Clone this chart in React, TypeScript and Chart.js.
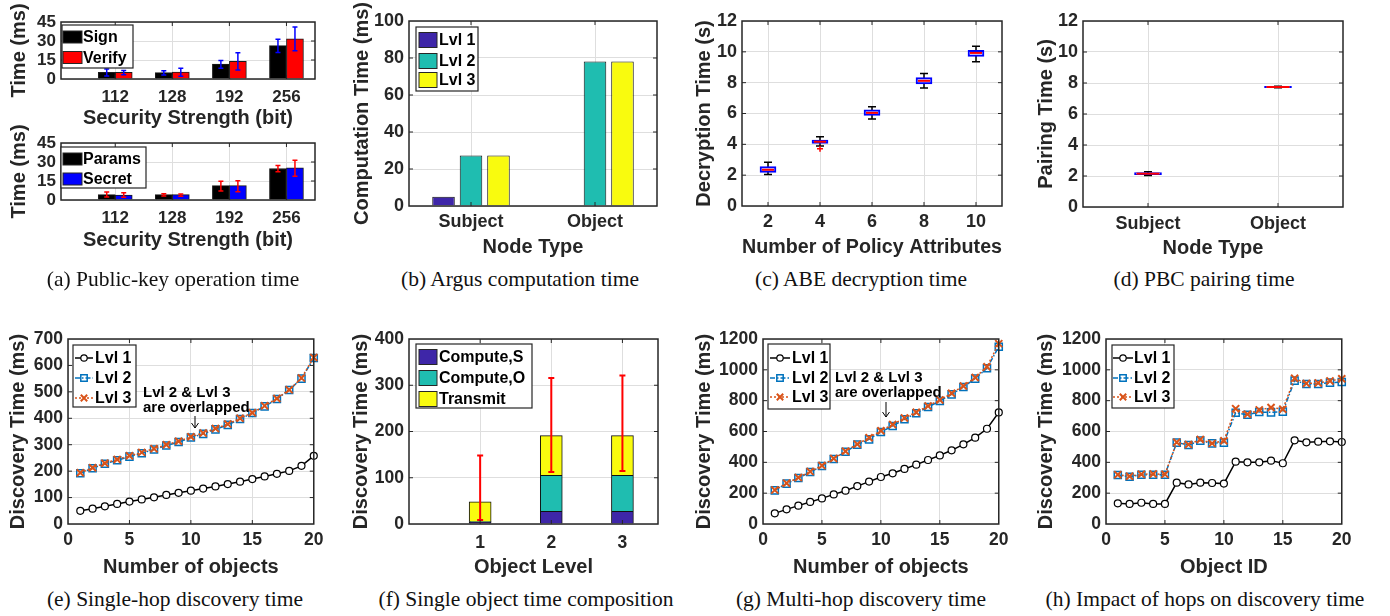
import React, { useEffect, useRef } from "react";
import { Chart, registerables } from "chart.js";

Chart.register(...registerables);

const SANS = '"Liberation Sans", Arial, Helvetica, sans-serif';
const SERIF = '"Liberation Serif", "Times New Roman", serif';
const INK = "#262626";
const GRID = "#dedede";
const PAR1 = "#3E26A8";
const PAR2 = "#1FBDB0";
const PAR3 = "#F9FB0E";
const BLUE_L = "#0072BD";
const ORANGE_L = "#D95319";

// ---------- (a) public-key operation time ----------
const secLabels = ["112", "128", "192", "256"];
const secPos = [1, 2, 3, 4];
const signMs = [5.2, 5.0, 11.8, 26.4];
const signLo = [2.4, 3.1, 8.4, 20.9];
const signHi = [7.8, 6.5, 14.7, 31.4];
const verifyMs = [5.2, 5.5, 13.9, 31.7];
const verifyLo = [3.4, 2.1, 7.1, 22.3];
const verifyHi = [6.8, 8.4, 20.7, 41.1];
const paramsMs = [4.2, 4.2, 11.3, 24.9];
const paramsLo = [2.4, 3.1, 7.1, 22.3];
const paramsHi = [6.3, 5.0, 14.9, 27.2];
const secretMs = [3.9, 4.2, 11.3, 25.4];
const secretLo = [2.1, 2.9, 6.5, 18.8];
const secretHi = [5.8, 4.7, 15.2, 31.4];

// ---------- (b) Argus computation time ----------
const nodeTypes = ["Subject", "Object"];
const argusLvl1 = [5.0, 0.3];
const argusLvl2 = [27.3, 78.1];
const argusLvl3 = [27.3, 78.1];

// ---------- (c) ABE decryption time ----------
const policyAttrs = ["2", "4", "6", "8", "10"];
const abeQ1 = [2.18, 4.06, 5.87, 7.92, 9.71];
const abeQ3 = [2.55, 4.27, 6.24, 8.33, 10.1];
const abeMed = [2.35, 4.17, 6.04, 8.12, 9.93];
const abeWLo = [2.05, 3.89, 5.65, 7.66, 9.35];
const abeWHi = [2.83, 4.49, 6.43, 8.59, 10.36];
const abeOutlier = [null, 3.71, null, null, null];

// ---------- (d) PBC pairing time ----------
const pairQ1 = [2.08, 7.7];
const pairQ3 = [2.22, 7.78];
const pairMed = [2.15, 7.74];
const pairWLo = [2.04, 7.69];
const pairWHi = [2.28, 7.79];

// ---------- (e) single-hop discovery ----------
const objIds = [1, 2, 3, 4, 5, 6, 7, 8, 9, 10, 11, 12, 13, 14, 15, 16, 17, 18, 19, 20];
const singleLvl1 = [50, 58, 67, 76, 85, 93, 101, 110, 118, 126, 134, 142, 151, 160, 170, 180, 190, 201, 220, 258];
const singleLvl2 = [192, 211, 228, 241, 255, 268, 282, 297, 310, 327, 341, 358, 375, 397, 420, 445, 473, 507, 550, 628];
const singleLvl3 = [194, 213, 230, 244, 258, 271, 285, 300, 313, 330, 344, 361, 378, 400, 421, 447, 475, 508, 552, 630];

// ---------- (f) single object time composition ----------
const objLevels = [1, 2, 3];
const computeS = [4.5, 27.4, 27.4];
const computeO = [0.5, 77.8, 77.8];
const transmitMs = [43, 86, 86];
const totalLo = [8.6, 112.4, 114.6];
const totalHi = [148, 315.7, 321];

// ---------- (g) multi-hop discovery ----------
const multiLvl1 = [69, 95, 119, 143, 166, 192, 216, 246, 275, 305, 329, 357, 385, 415, 445, 478, 517, 560, 618, 724];
const multiLvl2 = [218, 262, 298, 337, 376, 422, 469, 515, 549, 597, 636, 679, 718, 759, 798, 841, 889, 943, 1010, 1150];
const multiLvl3 = [220, 265, 301, 340, 379, 425, 472, 518, 560, 605, 645, 688, 725, 765, 805, 848, 895, 950, 1020, 1170];

// ---------- (h) impact of hops ----------
const hopsLvl1 = [134, 130, 138, 130, 130, 268, 257, 268, 266, 262, 404, 400, 400, 411, 394, 543, 530, 534, 536, 532];
const hopsLvl2 = [318, 307, 320, 320, 320, 528, 512, 541, 523, 528, 722, 709, 726, 724, 729, 930, 908, 908, 917, 921];
const hopsLvl3 = [320, 310, 322, 325, 322, 530, 515, 548, 523, 540, 748, 712, 740, 755, 745, 945, 912, 915, 928, 942];

const captions = [
  { text: "(a) Public-key operation time", x: 173, y: 280 },
  { text: "(b) Argus computation time", x: 520, y: 280 },
  { text: "(c) ABE decryption time", x: 861, y: 280 },
  { text: "(d) PBC pairing time", x: 1204, y: 280 },
  { text: "(e) Single-hop discovery time", x: 175, y: 600 },
  { text: "(f) Single object time composition", x: 526, y: 600 },
  { text: "(g) Multi-hop discovery time", x: 861, y: 600 },
  { text: "(h) Impact of hops on discovery time", x: 1205, y: 600 },
];

// ---------- layout helpers ----------
type Geo = { plotL: number; plotT: number; plotR: number; plotB: number; titleX: number; xTitleY: number; tickY: number; fontTick: number; padTop: number };
type Layout = Geo & { left: number; top: number; width: number; height: number; yW: number; xH: number; tickPad: number };

const PAD_RIGHT = 14;

function layoutOf(g: Geo): Layout {
  const left = Math.round(g.titleX - 16);
  const top = g.plotT - g.padTop;
  const yW = g.plotL - left;
  const xH = g.xTitleY + 16 - g.plotB;
  const width = g.plotR + PAD_RIGHT - left;
  const height = g.plotB + xH - top;
  const tickPad = g.tickY - g.plotB - (g.fontTick * 1.2) / 2;
  return { ...g, left, top, width, height, yW, xH, tickPad };
}

const geoA1 = layoutOf({ plotL: 61, plotT: 22, plotR: 315, plotB: 79, titleX: 19, xTitleY: 118, tickY: 97, fontTick: 17, padTop: 22 });
const geoA2 = layoutOf({ plotL: 61, plotT: 143, plotR: 315, plotB: 200, titleX: 19, xTitleY: 240, tickY: 218, fontTick: 17, padTop: 25 });
const geoB = layoutOf({ plotL: 409, plotT: 21, plotR: 657, plotB: 206, titleX: 362, xTitleY: 247, tickY: 222, fontTick: 18, padTop: 21 });
const geoC = layoutOf({ plotL: 742, plotT: 21, plotR: 1002, plotB: 206, titleX: 704, xTitleY: 247, tickY: 222, fontTick: 18, padTop: 21 });
const geoD = layoutOf({ plotL: 1083, plotT: 21, plotR: 1343, plotB: 207, titleX: 1046, xTitleY: 248, tickY: 224, fontTick: 18, padTop: 21 });
const geoE = layoutOf({ plotL: 68, plotT: 339, plotR: 315, plotB: 524, titleX: 18, xTitleY: 567, tickY: 540, fontTick: 17.5, padTop: 25 });
const geoF = layoutOf({ plotL: 409, plotT: 339, plotR: 658, plotB: 524, titleX: 361, xTitleY: 567, tickY: 543, fontTick: 17.5, padTop: 25 });
const geoG = layoutOf({ plotL: 763, plotT: 339, plotR: 1000, plotB: 524, titleX: 704, xTitleY: 567, tickY: 540, fontTick: 17.5, padTop: 25 });
const geoH = layoutOf({ plotL: 1106, plotT: 339, plotR: 1343, plotB: 524, titleX: 1046, xTitleY: 567, tickY: 540, fontTick: 17.5, padTop: 25 });

const tickFont = (size: number) => ({ family: SANS, size, weight: "bold" as const });
const TITLE_FONT = { family: SANS, size: 20, weight: "bold" as const };

function baseOptions(L: Layout): any {
  return {
    responsive: false,
    animation: false,
    devicePixelRatio: 1,
    events: [],
    layout: { padding: { top: L.padTop, right: PAD_RIGHT, left: 0, bottom: 0 } },
    plugins: { legend: { display: false }, tooltip: { enabled: false } },
  };
}

function scaleY(L: Layout, min: number, max: number, step: number, title: string): any {
  return {
    type: "linear",
    min,
    max,
    ticks: { stepSize: step, color: INK, font: tickFont(L.fontTick), padding: 5, autoSkip: false, callback: (v: any) => String(v) },
    grid: { color: GRID, lineWidth: 1, drawTicks: false },
    border: { display: false },
    title: { display: true, text: title, color: INK, font: TITLE_FONT, padding: { top: 4, bottom: 4 } },
    afterFit: (s: any) => {
      s.width = L.yW;
    },
  };
}

function scaleX(L: Layout, title: string, extra: any = {}, tickExtra: any = {}): any {
  return {
    ...extra,
    ticks: { color: INK, font: tickFont(L.fontTick), padding: L.tickPad, maxRotation: 0, minRotation: 0, autoSkip: false, ...tickExtra },
    grid: { color: GRID, lineWidth: 1, drawTicks: false, offset: false },
    border: { display: false },
    title: { display: true, text: title, color: INK, font: TITLE_FONT, padding: { top: 4, bottom: 4 } },
    afterFit: (s: any) => {
      s.height = L.xH;
    },
  };
}

// ---------- custom drawing plugin (MATLAB look) ----------
type LegendSpec = { x: number; y: number; w: number; h: number; rows: number[]; kind: "bar" | "line"; swX: number; swW: number; swH?: number; textX: number };
type Ext = {
  legend?: LegendSpec;
  errorBars?: { dataset: number; lo: number[]; hi: number[]; color: string; cap: number; width: number }[];
  box?: { dataset: number; lo: number[]; hi: number[]; med: number[]; cap: number };
  notes?: { text: string; x: number; y: number }[];
  arrow?: { x: number; y1: number; y2: number };
};

function drawMarker(ctx: CanvasRenderingContext2D, style: string, x: number, y: number, r: number, stroke: string, fill: string, lw: number) {
  ctx.save();
  ctx.setLineDash([]);
  ctx.lineWidth = lw;
  ctx.strokeStyle = stroke;
  ctx.fillStyle = fill;
  ctx.beginPath();
  if (style === "circle") {
    ctx.arc(x, y, r, 0, Math.PI * 2);
    ctx.fill();
    ctx.stroke();
  } else if (style === "rect") {
    ctx.rect(x - r, y - r, 2 * r, 2 * r);
    ctx.fill();
    ctx.stroke();
  } else {
    ctx.moveTo(x - r, y - r);
    ctx.lineTo(x + r, y + r);
    ctx.moveTo(x + r, y - r);
    ctx.lineTo(x - r, y + r);
    ctx.stroke();
  }
  ctx.restore();
}

function matlab(ext: Ext): any {
  return {
    id: "matlab",
    beforeDatasetsDraw(chart: any) {
      const box = ext.box;
      if (!box) return;
      const ctx = chart.ctx;
      const ys = chart.scales.y;
      const meta = chart.getDatasetMeta(box.dataset);
      ctx.save();
      ctx.strokeStyle = "#000";
      ctx.lineWidth = 1.5;
      ctx.setLineDash([]);
      meta.data.forEach((el: any, i: number) => {
        const x = el.x;
        const a = ys.getPixelForValue(box.lo[i]);
        const b = ys.getPixelForValue(box.hi[i]);
        ctx.beginPath();
        ctx.moveTo(x, a);
        ctx.lineTo(x, b);
        ctx.moveTo(x - box.cap / 2, a);
        ctx.lineTo(x + box.cap / 2, a);
        ctx.moveTo(x - box.cap / 2, b);
        ctx.lineTo(x + box.cap / 2, b);
        ctx.stroke();
      });
      ctx.restore();
    },
    afterDatasetsDraw(chart: any) {
      const ctx: CanvasRenderingContext2D = chart.ctx;
      const a = chart.chartArea;
      const xs = chart.scales.x;
      const ys = chart.scales.y;
      // error bars
      (ext.errorBars || []).forEach((eb) => {
        const meta = chart.getDatasetMeta(eb.dataset);
        ctx.save();
        ctx.strokeStyle = eb.color;
        ctx.lineWidth = eb.width;
        ctx.setLineDash([]);
        meta.data.forEach((el: any, i: number) => {
          const x = el.x;
          const p = ys.getPixelForValue(eb.lo[i]);
          const q = ys.getPixelForValue(eb.hi[i]);
          ctx.beginPath();
          ctx.moveTo(x, p);
          ctx.lineTo(x, q);
          ctx.moveTo(x - eb.cap, p);
          ctx.lineTo(x + eb.cap, p);
          ctx.moveTo(x - eb.cap, q);
          ctx.lineTo(x + eb.cap, q);
          ctx.stroke();
        });
        ctx.restore();
      });
      // box medians
      if (ext.box) {
        const box = ext.box;
        const meta = chart.getDatasetMeta(box.dataset);
        ctx.save();
        ctx.strokeStyle = "#ff0000";
        ctx.lineWidth = 2;
        meta.data.forEach((el: any, i: number) => {
          const y = ys.getPixelForValue(box.med[i]);
          const hw = el.width / 2 - 2;
          ctx.beginPath();
          ctx.moveTo(el.x - hw, y);
          ctx.lineTo(el.x + hw, y);
          ctx.stroke();
        });
        ctx.restore();
      }
      // frame and inward tick marks
      ctx.save();
      ctx.strokeStyle = INK;
      ctx.lineWidth = 1;
      ctx.setLineDash([]);
      ctx.beginPath();
      xs.ticks.forEach((_t: any, i: number) => {
        const p = xs.getPixelForTick(i);
        if (p <= a.left + 1 || p >= a.right - 1) return;
        ctx.moveTo(p, a.bottom);
        ctx.lineTo(p, a.bottom - 4);
        ctx.moveTo(p, a.top);
        ctx.lineTo(p, a.top + 4);
      });
      ys.ticks.forEach((_t: any, i: number) => {
        const p = ys.getPixelForTick(i);
        if (p <= a.top + 1 || p >= a.bottom - 1) return;
        ctx.moveTo(a.left, p);
        ctx.lineTo(a.left + 4, p);
        ctx.moveTo(a.right, p);
        ctx.lineTo(a.right - 4, p);
      });
      ctx.stroke();
      ctx.lineWidth = 1.5;
      ctx.strokeRect(a.left, a.top, a.right - a.left, a.bottom - a.top);
      ctx.restore();
      // notes
      if (ext.notes) {
        ctx.save();
        ctx.fillStyle = "#000";
        ctx.font = `bold 15px ${SANS}`;
        ctx.textAlign = "left";
        ctx.textBaseline = "middle";
        ext.notes.forEach((n) => ctx.fillText(n.text, a.left + n.x, a.top + n.y));
        ctx.restore();
      }
      if (ext.arrow) {
        const ar = ext.arrow;
        const x = a.left + ar.x;
        const y1 = a.top + ar.y1;
        const y2 = a.top + ar.y2;
        ctx.save();
        ctx.strokeStyle = "#000";
        ctx.lineWidth = 1;
        ctx.beginPath();
        ctx.moveTo(x, y1);
        ctx.lineTo(x, y2);
        ctx.moveTo(x - 3.5, y2 - 5);
        ctx.lineTo(x, y2);
        ctx.lineTo(x + 3.5, y2 - 5);
        ctx.stroke();
        ctx.restore();
      }
      // legend
      if (ext.legend) {
        const lg = ext.legend;
        const x0 = a.left + lg.x;
        const y0 = a.top + lg.y;
        ctx.save();
        ctx.fillStyle = "#fff";
        ctx.fillRect(x0, y0, lg.w, lg.h);
        ctx.strokeStyle = INK;
        ctx.lineWidth = 1.2;
        ctx.setLineDash([]);
        ctx.strokeRect(x0, y0, lg.w, lg.h);
        ctx.font = `bold 16px ${SANS}`;
        ctx.textBaseline = "middle";
        ctx.textAlign = "left";
        chart.data.datasets.forEach((ds: any, i: number) => {
          if (i >= lg.rows.length) return;
          const cy = a.top + lg.rows[i];
          if (lg.kind === "bar") {
            const h = lg.swH || 12;
            ctx.fillStyle = ds.backgroundColor;
            ctx.fillRect(a.left + lg.swX, cy - h / 2, lg.swW, h);
            ctx.strokeStyle = INK;
            ctx.lineWidth = 1;
            ctx.strokeRect(a.left + lg.swX, cy - h / 2, lg.swW, h);
          } else {
            ctx.strokeStyle = ds.borderColor;
            ctx.lineWidth = ds.borderWidth;
            ctx.setLineDash(ds.borderDash || []);
            ctx.beginPath();
            ctx.moveTo(a.left + lg.swX, cy);
            ctx.lineTo(a.left + lg.swX + lg.swW, cy);
            ctx.stroke();
            ctx.setLineDash([]);
            drawMarker(ctx, ds.pointStyle, a.left + lg.swX + lg.swW / 2, cy, 3.2, ds.pointBorderColor, ds.pointBackgroundColor, ds.pointBorderWidth);
          }
          ctx.fillStyle = "#000";
          ctx.fillText(ds.label, a.left + lg.textX, cy + 1);
        });
        ctx.restore();
      }
    },
  };
}

// ---------- chart configurations ----------
function configA(L: Layout, top: boolean): any {
  const n1 = top ? "Sign" : "Params";
  const n2 = top ? "Verify" : "Secret";
  const v1 = top ? signMs : paramsMs;
  const v2 = top ? verifyMs : secretMs;
  const c2 = top ? "#ff0000" : "#0000ff";
  const errColor = top ? "#0000ff" : "#ff0000";
  return {
    type: "bar",
    data: {
      datasets: [
        { label: n1, data: secPos.map((x, i) => ({ x, y: v1[i] })), backgroundColor: "#000000", borderColor: "#1a1a1a", borderWidth: 1, barThickness: 17 },
        { label: n2, data: secPos.map((x, i) => ({ x, y: v2[i] })), backgroundColor: c2, borderColor: "#1a1a1a", borderWidth: 1, barThickness: 17 },
      ],
    },
    options: {
      ...baseOptions(L),
      scales: {
        x: scaleX(
          L,
          "Security Strength (bit)",
          {
            type: "linear",
            min: 0.05,
            max: 4.5,
            offset: false,
            afterBuildTicks: (s: any) => {
              s.ticks = secPos.map((v) => ({ value: v }));
            },
          },
          { callback: (v: any) => secLabels[secPos.indexOf(Number(v))] ?? "" }
        ),
        y: scaleY(L, 0, 45, 15, "Time (ms)"),
      },
    },
    plugins: [
      matlab({
        errorBars: [
          { dataset: 0, lo: top ? signLo : paramsLo, hi: top ? signHi : paramsHi, color: errColor, cap: 2.5, width: 1.5 },
          { dataset: 1, lo: top ? verifyLo : secretLo, hi: top ? verifyHi : secretHi, color: errColor, cap: 2.5, width: 1.5 },
        ],
        legend: top
          ? { x: 1, y: 3, w: 71, h: 43, rows: [15, 35.5], kind: "bar", swX: 2, swW: 19, swH: 12, textX: 22 }
          : { x: 0, y: 4, w: 85, h: 41, rows: [16, 36], kind: "bar", swX: 2, swW: 19, swH: 12, textX: 22 },
      }),
    ],
  };
}

function configB(L: Layout): any {
  const common = { borderColor: "#111", borderWidth: 1, categoryPercentage: 0.665, barPercentage: 0.82 };
  return {
    type: "bar",
    data: {
      labels: nodeTypes,
      datasets: [
        { label: "Lvl 1", data: argusLvl1, backgroundColor: PAR1, ...common },
        { label: "Lvl 2", data: argusLvl2, backgroundColor: PAR2, ...common },
        { label: "Lvl 3", data: argusLvl3, backgroundColor: PAR3, ...common },
      ],
    },
    options: {
      ...baseOptions(L),
      scales: {
        x: scaleX(L, "Node Type", { type: "category", offset: true }),
        y: scaleY(L, 0, 100, 20, "Computation Time (ms)"),
      },
    },
    plugins: [matlab({ legend: { x: 7, y: 6, w: 62, h: 64, rows: [19, 40, 59], kind: "bar", swX: 10, swW: 18, swH: 15, textX: 30 } })],
  };
}

function configBox(L: Layout, labels: string[], q1: number[], q3: number[], med: number[], wlo: number[], whi: number[], outliers: (number | null)[] | null, thickness: number, title: string, xTitle: string): any {
  const datasets: any[] = [
    {
      label: "box",
      data: q1.map((v, i) => [v, q3[i]]),
      backgroundColor: "#f2f3ff",
      borderColor: "#0000ff",
      borderWidth: 2,
      borderSkipped: false,
      barThickness: thickness,
    },
  ];
  if (outliers) {
    datasets.push({
      type: "line",
      label: "outlier",
      data: outliers,
      showLine: false,
      pointStyle: "cross",
      pointRadius: 3,
      pointBorderColor: "#ff0000",
      pointBackgroundColor: "#ff0000",
      pointBorderWidth: 1.5,
      borderColor: "#ff0000",
    });
  }
  return {
    type: "bar",
    data: { labels, datasets },
    options: {
      ...baseOptions(L),
      scales: {
        x: scaleX(L, xTitle, { type: "category", offset: true }),
        y: scaleY(L, 0, 12, 2, title),
      },
    },
    plugins: [matlab({ box: { dataset: 0, lo: wlo, hi: whi, med, cap: 8 } })],
  };
}

function configF(L: Layout): any {
  const common = { borderColor: "#111", borderWidth: 1, barThickness: 22 };
  return {
    type: "bar",
    data: {
      datasets: [
        { label: "Compute,S", data: objLevels.map((x, i) => ({ x, y: computeS[i] })), backgroundColor: PAR1, ...common },
        { label: "Compute,O", data: objLevels.map((x, i) => ({ x, y: computeO[i] })), backgroundColor: PAR2, ...common },
        { label: "Transmit", data: objLevels.map((x, i) => ({ x, y: transmitMs[i] })), backgroundColor: PAR3, ...common },
      ],
    },
    options: {
      ...baseOptions(L),
      scales: {
        x: scaleX(L, "Object Level", {
          type: "linear",
          min: 0,
          max: 3.5,
          offset: false,
          stacked: true,
          afterBuildTicks: (s: any) => {
            s.ticks = objLevels.map((v) => ({ value: v }));
          },
        }),
        y: { ...scaleY(L, 0, 400, 100, "Discovery Time (ms)"), stacked: true },
      },
    },
    plugins: [
      matlab({
        errorBars: [{ dataset: 2, lo: totalLo, hi: totalHi, color: "#ff0000", cap: 3, width: 2 }],
        legend: { x: 7, y: 5, w: 116, h: 64, rows: [18, 39, 60], kind: "bar", swX: 10, swW: 18, swH: 15, textX: 30 },
      }),
    ],
  };
}

function configLine(L: Layout, y1: number[], y2: number[], y3: number[], ymax: number, xTitle: string, legend: LegendSpec, notes?: { text: string; x: number; y: number }[], arrow?: { x: number; y1: number; y2: number }): any {
  return {
    type: "line",
    data: {
      datasets: [
        {
          label: "Lvl 1",
          data: objIds.map((x, i) => ({ x, y: y1[i] })),
          borderColor: "#000000",
          borderWidth: 1.5,
          pointStyle: "circle",
          pointRadius: 3.5,
          pointBackgroundColor: "#ffffff",
          pointBorderColor: "#000000",
          pointBorderWidth: 1.2,
          order: 2,
          clip: false,
        },
        {
          label: "Lvl 2",
          data: objIds.map((x, i) => ({ x, y: y2[i] })),
          borderColor: BLUE_L,
          borderWidth: 1.5,
          borderDash: [5, 2, 1.5, 2],
          pointStyle: "rect",
          pointRadius: 5,
          pointBackgroundColor: "rgba(255,255,255,0)",
          pointBorderColor: BLUE_L,
          pointBorderWidth: 1.5,
          order: 1,
          clip: false,
        },
        {
          label: "Lvl 3",
          data: objIds.map((x, i) => ({ x, y: y3[i] })),
          borderColor: ORANGE_L,
          borderWidth: 1.5,
          borderDash: [2, 2],
          pointStyle: "crossRot",
          pointRadius: 5,
          pointBackgroundColor: ORANGE_L,
          pointBorderColor: ORANGE_L,
          pointBorderWidth: 2,
          order: 0,
          clip: false,
        },
      ],
    },
    options: {
      ...baseOptions(L),
      scales: {
        x: scaleX(L, xTitle, { type: "linear", min: 0, max: 20 }, { stepSize: 5 }),
        y: scaleY(L, 0, ymax, ymax === 700 ? 100 : 200, "Discovery Time (ms)"),
      },
    },
    plugins: [matlab({ legend, notes, arrow })],
  };
}

// ---------- components ----------
function ChartBox({ L, make }: { L: Layout; make: (L: Layout) => any }) {
  const ref = useRef<HTMLCanvasElement | null>(null);
  useEffect(() => {
    if (!ref.current) return;
    const chart = new Chart(ref.current, make(L));
    return () => chart.destroy();
  }, []);
  return (
    <canvas
      ref={ref}
      width={L.width}
      height={L.height}
      style={{ position: "absolute", left: L.left, top: L.top, width: L.width, height: L.height }}
    />
  );
}

const overlapNote = (dx: number, dy: number) => [
  { text: "Lvl 2 & Lvl 3", x: dx, y: dy },
  { text: "are overlapped", x: dx, y: dy + 14.5 },
];

export default function App() {
  return (
    <div style={{ position: "absolute", left: 0, top: 0, width: 1390, height: 616, background: "#ffffff", overflow: "hidden" }}>
      <ChartBox L={geoA1} make={(L) => configA(L, true)} />
      <ChartBox L={geoA2} make={(L) => configA(L, false)} />
      <ChartBox L={geoB} make={configB} />
      <ChartBox
        L={geoC}
        make={(L) => configBox(L, policyAttrs, abeQ1, abeQ3, abeMed, abeWLo, abeWHi, abeOutlier, 16, "Decryption Time (s)", "Number of Policy Attributes")}
      />
      <ChartBox L={geoD} make={(L) => configBox(L, nodeTypes, pairQ1, pairQ3, pairMed, pairWLo, pairWHi, null, 27, "Pairing Time (s)", "Node Type")} />
      <ChartBox
        L={geoE}
        make={(L) =>
          configLine(
            L,
            singleLvl1,
            singleLvl2,
            singleLvl3,
            700,
            "Number of objects",
            { x: 5, y: 6, w: 63, h: 62, rows: [19, 39, 59], kind: "line", swX: 7, swW: 18, textX: 27 },
            overlapNote(75, 54),
            { x: 127, y1: 77, y2: 89 }
          )
        }
      />
      <ChartBox L={geoF} make={configF} />
      <ChartBox
        L={geoG}
        make={(L) =>
          configLine(
            L,
            multiLvl1,
            multiLvl2,
            multiLvl3,
            1200,
            "Number of objects",
            { x: 5, y: 5, w: 62, h: 65, rows: [19, 39, 58], kind: "line", swX: 7, swW: 20, textX: 29 },
            overlapNote(72, 39),
            { x: 123, y1: 63, y2: 78 }
          )
        }
      />
      <ChartBox
        L={geoH}
        make={(L) =>
          configLine(L, hopsLvl1, hopsLvl2, hopsLvl3, 1200, "Object ID", { x: 6, y: 6, w: 62, h: 63, rows: [19, 39, 58], kind: "line", swX: 7, swW: 20, textX: 28 })
        }
      />
      {captions.map((c) => (
        <div
          key={c.text}
          style={{
            position: "absolute",
            left: c.x,
            top: c.y,
            transform: "translate(-50%, -50%)",
            whiteSpace: "nowrap",
            fontFamily: SERIF,
            fontSize: 21.5,
            lineHeight: 1,
            color: "#111",
          }}
        >
          {c.text}
        </div>
      ))}
    </div>
  );
}
